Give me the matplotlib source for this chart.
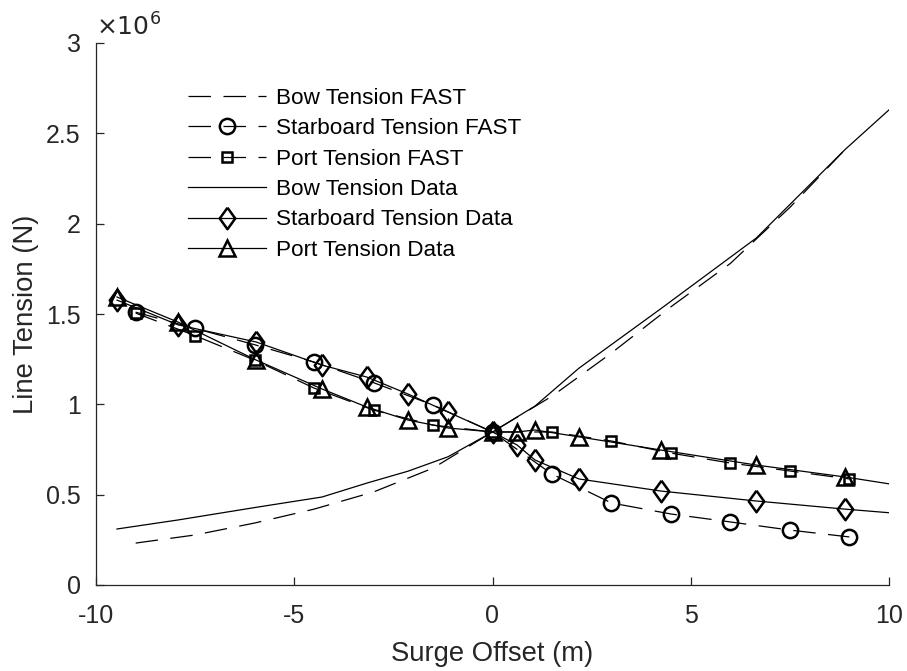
import matplotlib
matplotlib.use("Agg")
import matplotlib.pyplot as plt
from matplotlib.ticker import FuncFormatter, FixedLocator

plt.rcParams['font.family'] = ['Liberation Sans', 'DejaVu Sans']

# FAST results (surge offset, m)
fast_x = [-9, -7.5, -6, -4.5, -3, -1.5, 0, 1.5, 3, 4.5, 6, 7.5, 9]
bow_fast = [0.232e6, 0.277e6, 0.343e6, 0.42e6, 0.515e6, 0.647e6, 0.847e6,
            1.045e6, 1.284e6, 1.54e6, 1.78e6, 2.09e6, 2.435e6]
stbd_fast = [1.51e6, 1.42e6, 1.33e6, 1.234e6, 1.12e6, 0.996e6, 0.847e6,
             0.614e6, 0.454e6, 0.393e6, 0.349e6, 0.304e6, 0.266e6]
port_fast = [1.505e6, 1.38e6, 1.245e6, 1.09e6, 0.968e6, 0.885e6, 0.847e6,
             0.847e6, 0.797e6, 0.73e6, 0.675e6, 0.631e6, 0.587e6]

# Measured data (last point at 10 m has no marker)
data_x = [-9.47, -7.93, -5.96, -4.3, -3.17, -2.13, -1.12, 0, 0.62, 1.07,
          2.18, 4.25, 6.65, 8.89, 10]
bow_data = [0.31e6, 0.36e6, 0.43e6, 0.487e6, 0.564e6, 0.63e6, 0.71e6, 0.847e6,
            0.93e6, 0.99e6, 1.20e6, 1.53e6, 1.92e6, 2.41e6, 2.63e6]
stbd_data = [1.577e6, 1.44e6, 1.345e6, 1.217e6, 1.151e6, 1.057e6, 0.957e6,
             0.847e6, 0.775e6, 0.692e6, 0.587e6, 0.52e6, 0.465e6, 0.42e6, 0.40e6]
port_data = [1.594e6, 1.455e6, 1.245e6, 1.085e6, 0.985e6, 0.913e6, 0.869e6,
             0.847e6, 0.847e6, 0.858e6, 0.82e6, 0.747e6, 0.664e6, 0.598e6, 0.56e6]

labels = ["Bow Tension FAST", "Starboard Tension FAST", "Port Tension FAST",
          "Bow Tension Data", "Starboard Tension Data", "Port Tension Data"]
x_ticks = [-10, -5, 0, 5, 10]
y_ticks = [0, 0.5e6, 1e6, 1.5e6, 2e6, 2.5e6, 3e6]

fig = plt.figure(figsize=(9.07, 6.71), dpi=100)
ax = fig.add_axes([96 / 907, 1 - 585 / 671, (889 - 96) / 907, (585 - 43) / 671])

lw = 0.9
dash = (0, (18, 10))
mew = 1.8
nmark = list(range(len(data_x) - 1))
diamond = [(0, 1), (0.72, 0), (0, -1), (-0.72, 0), (0, 1)]

ax.plot(fast_x, bow_fast, color='k', lw=lw, linestyle=dash, label=labels[0])
ax.plot(fast_x, stbd_fast, color='k', lw=lw, linestyle=dash, marker='o', ms=11,
        mfc='none', mew=mew, label=labels[1])
ax.plot(fast_x, port_fast, color='k', lw=lw, linestyle=dash, marker='s', ms=7.5,
        mfc='none', mew=mew, label=labels[2])
ax.plot(data_x, bow_data, color='k', lw=lw, label=labels[3])
ax.plot(data_x, stbd_data, color='k', lw=lw, marker=diamond, ms=15.5, mfc='none',
        mew=mew, markevery=nmark, label=labels[4])
ax.plot(data_x, port_data, color='k', lw=lw, marker='^', ms=12, mfc='none',
        mew=mew, markevery=nmark, label=labels[5])

ax.set_xlim(-10, 10)
ax.set_ylim(0, 3e6)
ax.xaxis.set_major_locator(FixedLocator(x_ticks))
ax.yaxis.set_major_locator(FixedLocator(y_ticks))
ax.yaxis.set_major_formatter(FuncFormatter(lambda v, p: f"{v / 1e6:g}"))
ax.xaxis.set_major_formatter(FuncFormatter(lambda v, p: f"{v:g}"))

axc = '#262626'
for s in ['top', 'right']:
    ax.spines[s].set_visible(False)
for s in ['left', 'bottom']:
    ax.spines[s].set_color(axc)
    ax.spines[s].set_linewidth(0.9)
ax.tick_params(direction='in', length=6, width=0.9, colors=axc, labelsize=18)
ax.tick_params(axis='x', pad=14)
ax.tick_params(axis='y', pad=11)

ax.text(0.0, 1.005, r"$\times10^{6}$", transform=ax.transAxes, ha='left',
        va='bottom', fontsize=18, color=axc)

ax.set_xlabel("Surge Offset (m)", fontsize=19.8, color=axc, labelpad=9)
ax.set_ylabel("Line Tension (N)", fontsize=19.8, color=axc, labelpad=5)

leg = ax.legend(loc='upper left', bbox_to_anchor=(0.09, 0.955), frameon=False,
                fontsize=16.2, handlelength=3.5, handletextpad=0.45,
                labelspacing=0.42)

fig.savefig("out.png", dpi=100)
